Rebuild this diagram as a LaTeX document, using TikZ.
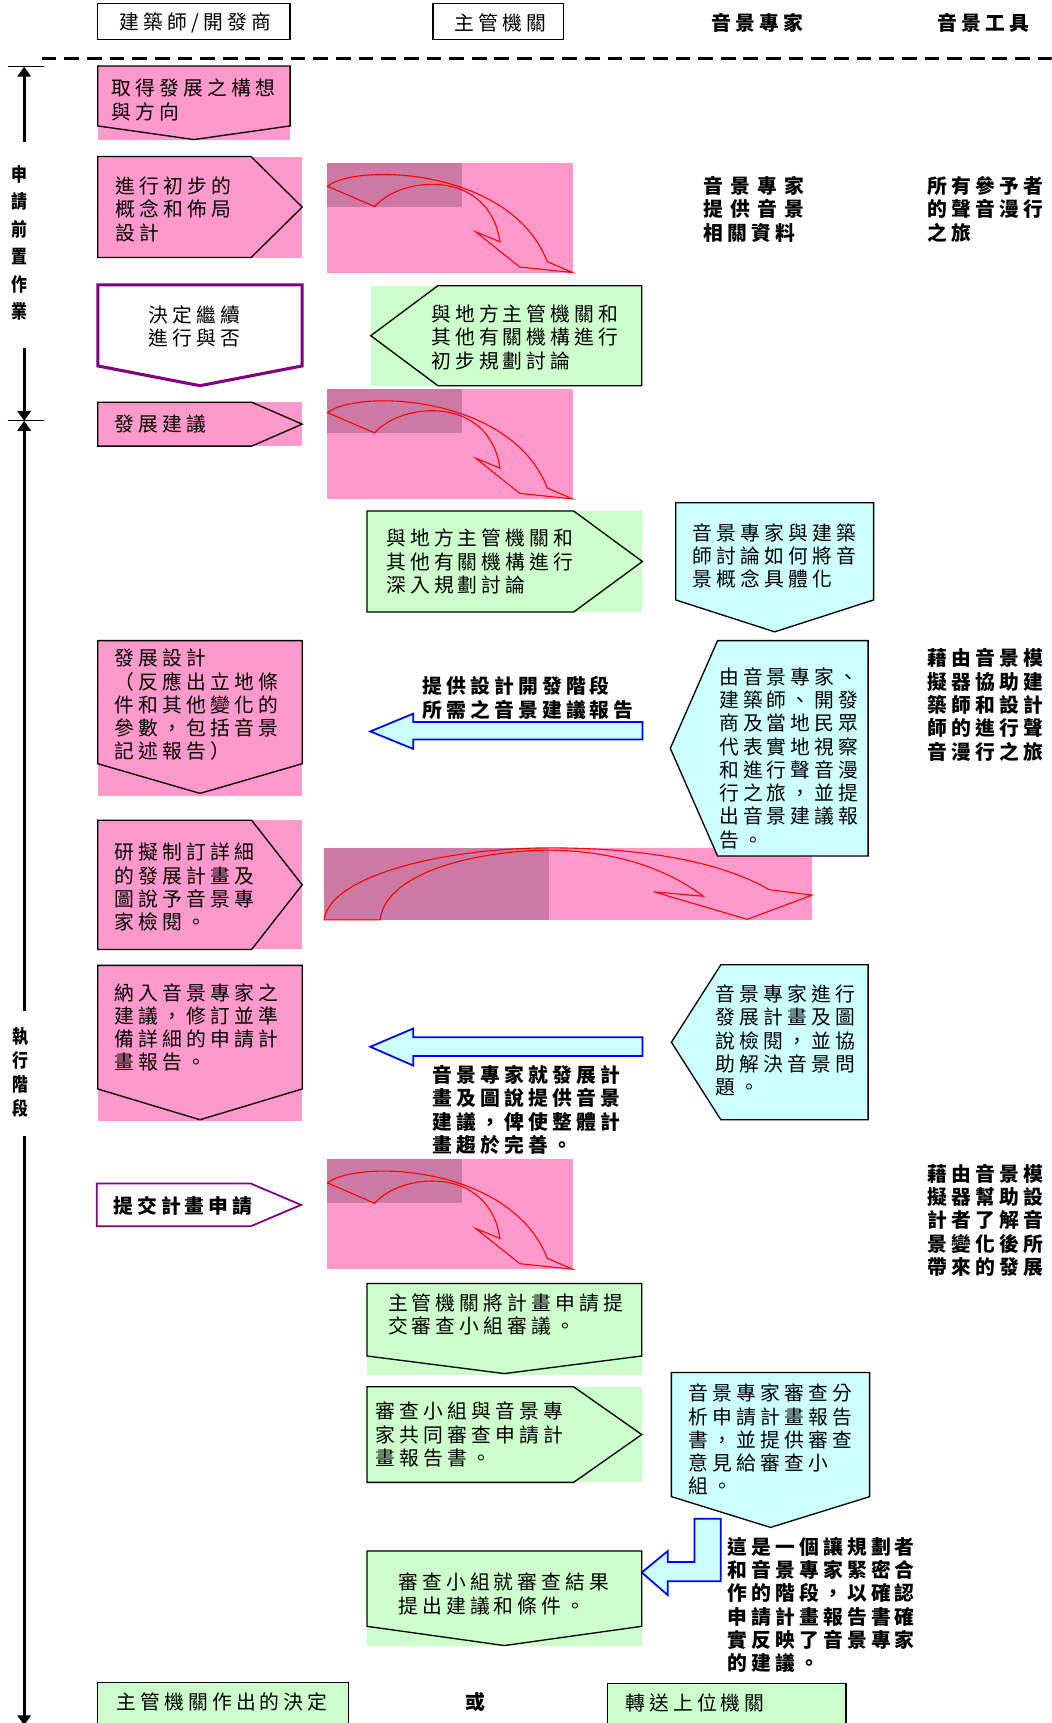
\documentclass[tikz,border=0pt]{standalone}
\usepackage{fontspec}
\setmainfont{Noto Sans CJK TC}[LetterSpace=21]
\usetikzlibrary{arrows.meta}

\definecolor{rosefill}{HTML}{FF99CC}
\definecolor{rosedark}{HTML}{CC79A3}
\definecolor{mintfill}{HTML}{CCFFCC}
\definecolor{icefill}{HTML}{CCFFFF}
\definecolor{plum}{HTML}{800080}

% pentagon pointing right: [style]{x1}{y1}{x shoulder}{x tip}{y2}
\newcommand{\pentR}[6][]{\draw[#1] (#2,#3) -- (#4,#3) -- (#5,{(#3+#6)/2}) -- (#4,#6) -- (#2,#6) -- cycle;}
% pentagon pointing down: [style]{x1}{y1}{x2}{y sides}{y tip}
\newcommand{\pentD}[6][]{\draw[#1] (#2,#3) -- (#4,#3) -- (#4,#5) -- ({(#2+#4)/2},#6) -- (#2,#5) -- cycle;}
% pentagon pointing left: [style]{x tip}{y1}{x shoulder}{x2}{y2}
\newcommand{\pentL}[6][]{\draw[#1] (#4,#3) -- (#5,#3) -- (#5,#6) -- (#4,#6) -- (#2,{(#3+#6)/2}) -- cycle;}
% curved down arrow on its pink tile, top left corner at (#1,#2)
\newcommand{\turnarrow}[2]{%
  \begin{scope}[shift={(#1,#2)}]
    \fill[rosefill] (0,0) rectangle (223,100);
    \fill[rosedark] (0,0) rectangle (122,40);
    \draw[red, line width=0.5pt] (0,21.5) .. controls (27,0) and (167,5) .. (200,90)
      -- (223,100) -- (175,95) -- (135,63) -- (157,72)
      .. controls (147,5) and (67,12) .. (43,40) -- cycle;
  \end{scope}}

\begin{document}
\begin{tikzpicture}[x=0.5pt, y=-0.5pt,
    rim/.style={draw=black, line width=0.6pt},
    txt/.style={anchor=west, align=left, inner sep=0pt, font=\fontsize{9}{10.6}\selectfont},
    txtb/.style={txt, font=\fontsize{9}{10.6}\selectfont\bfseries},
    blockarrow/.style={draw=blue, fill=icefill, line width=0.8pt},
    phase/.style={align=center, inner sep=0pt, xscale=0.85, transform shape},
    timeline/.style={line width=1.4pt, -{Triangle[length=4.5pt,width=6pt]}}
]
\useasboundingbox (0,0) rectangle (957,1568);
\clip (0,0) rectangle (957,1568);

% 欄位標題
\draw[rim] (89,3) rectangle (264,36);
\node[txt] (hArch) at (108.7,21) {建築師/開發商};
\draw[rim] (394,3) rectangle (513,36);
\node[txt] (hAuth) at (413,21) {主管機關};
\node[txtb, anchor=center] (hExpert) at (689,21) {音景專家};
\node[txtb, anchor=center] (hTool) at (895,21) {音景工具};
\draw[line width=1.2pt, dash pattern=on 6.7pt off 3.6pt] (38,53) -- (957,53);

% 時間軸
\coordinate (barA) at (22,60.7);
\coordinate (barB) at (22,383);
\coordinate (lineA) at (22,129);
\coordinate (lineB) at (22,317);
\coordinate (lineC) at (22,920);
\coordinate (lineD) at (22,1034);
\coordinate (lineEnd) at (22,1570);
\draw[line width=0.5pt] (7,60.7) -- (40,60.7);
\draw[line width=0.5pt] (7,383) -- (40,383);
\node[phase, font=\fontsize{8.5}{12.5}\selectfont\bfseries] (phasePre) at (18,221) {申\\請\\前\\置\\作\\業};
\node[phase, font=\fontsize{8.5}{10.9}\selectfont\bfseries] (phaseRun) at (19,976) {執\\行\\階\\段};
\draw[timeline] (lineA) -- (barA);
\draw[timeline] (lineB) -- (barB);
\draw[timeline] (lineC) -- (barB);
\draw[timeline] (lineD) -- (lineEnd);

% 曲線箭頭
\foreach \y in {148,354,1055} {\turnarrow{298}{\y}}
\begin{scope}[shift={(295,771.6)}]
  \fill[rosefill] (0,0) rectangle (444,65.5);
  \fill[rosedark] (0,0) rectangle (205,65.5);
  \draw[red, line width=0.5pt] (0,65.5) .. controls (5,25) and (110,0) .. (205,0)
    .. controls (300,0) and (365,15) .. (405,38) -- (444,43) -- (385,65) -- (300,40) -- (345,44)
    .. controls (310,18) and (265,3) .. (205,2) .. controls (130,3) and (55,25) .. (51,65.5) -- cycle;
\end{scope}

% 申請前置作業
\fill[rosefill] (89,60) rectangle (264,127);
\pentD[rim]{89}{60}{264}{114.6}{127}
\node[txt] (t1) at (101,91) {取得發展之構想\\與方向};

\fill[rosefill] (89,142.5) rectangle (275,234.4);
\pentR[rim]{89}{142.5}{228.5}{275}{234.4}
\node[txt] (t2) at (105,190.5) {進行初步的\\概念和佈局\\設計};
\node[txtb] (x1) at (640,190.5) {音\hspace{3.2pt}景\hspace{3.2pt}專\hspace{3.2pt}家\\提\hspace{3.2pt}供\hspace{3.2pt}音\hspace{3.2pt}景\\相關資料};
\node[txtb] (y1) at (844,190.5) {所有參予者\\的聲音漫行\\之旅};

\pentD[draw=plum, line width=1.4pt]{89}{259.3}{275}{333}{351}
\node[txt, anchor=center, align=center] (t3) at (177,297) {決定繼續\\進行與否};
\fill[mintfill] (337.4,260) rectangle (584,351);
\pentL[rim]{337.4}{260}{398.5}{584}{351}
\node[txt] (g1) at (392,307) {與地方主管機關和\\其他有關機構進行\\初步規劃討論};

% 執行階段
\fill[rosefill] (89,366) rectangle (275,406);
\pentR[rim]{89}{366}{229}{275}{406}
\node[txt] (t4) at (104,386) {發展建議};

\fill[mintfill] (334,465) rectangle (584.6,557);
\pentR[rim]{334}{465}{522}{584.6}{557}
\node[txt] (g2) at (351,511) {與地方主管機關和\\其他有關機構進行\\深入規劃討論};
\pentD[rim, fill=icefill]{615}{457.6}{795}{546}{575}
\node[txt] (c1) at (630,506) {音景專家與建築\\師討論如何將音\\景概念具體化};

\fill[rosefill] (89,583) rectangle (275,724);
\pentD[rim]{89}{583}{275}{695}{722}
\node[txt] (t5) at (104,641.5) {發展設計\\（反應出立地條\\件和其他變化的\\參數，包括音景\\記述報告）};
\draw[blockarrow] (584.6,657) -- (376,657) -- (376,649.5) -- (337,665.6) -- (376,681.5) -- (376,673) -- (584.6,673) -- cycle;
\node[txtb] (b1) at (384,635) {提供設計開發階段\\所需之音景建議報告};
\pentL[rim, fill=icefill]{610}{583}{653}{790}{779}
\node[txt] (c2) at (654,690) {由音景專家、\\建築師、開發\\商及當地民眾\\代表實地視察\\和進行聲音漫\\行之旅，並提\\出音景建議報\\告。};
\node[txtb] (y2) at (844,641.5) {藉由音景模\\擬器協助建\\築師和設計\\師的進行聲\\音漫行之旅};

\fill[rosefill] (89,746.5) rectangle (275,864);
\pentR[rim]{89}{746.5}{229}{275}{864}
\node[txt] (t6) at (104,807.5) {研擬制訂詳細\\的發展計畫及\\圖說予音景專\\家檢閱。};

\fill[rosefill] (89,878.5) rectangle (275,1019.7);
\pentD[rim]{89}{878.5}{275}{991}{1019}
\node[txt] (t7) at (104,935) {納入音景專家之\\建議，修訂並準\\備詳細的申請計\\畫報告。};
\draw[blockarrow] (584.6,944) -- (376,944) -- (376,936) -- (337,952.6) -- (376,969.7) -- (376,961) -- (584.6,961) -- cycle;
\node[txtb] (b2) at (393.6,1010) {音景專家就發展計\\畫及圖說提供音景\\建議，俾使整體計\\畫趨於完善。};
\pentL[rim, fill=icefill]{611}{878}{656}{790}{1019}
\node[txt] (c3) at (651,947) {音景專家進行\\發展計畫及圖\\說檢閱，並協\\助解決音景問\\題。};

\pentR[draw=plum, line width=0.8pt]{88}{1077}{228}{274}{1116}
\node[txtb] (t8) at (102.6,1097) {提交計畫申請};
\node[txtb] (y3) at (844,1110.5) {藉由音景模\\擬器幫助設\\計者了解音\\景變化後所\\帶來的發展};

\fill[mintfill] (334,1168) rectangle (584,1251);
\pentD[rim]{334}{1168}{584}{1234}{1250}
\node[txt] (g3) at (352.7,1196) {主管機關將計畫申請提\\交審查小組審議。};

\fill[mintfill] (334,1262) rectangle (584,1349);
\pentR[rim]{334}{1262}{522}{584}{1349}
\node[txt] (g4) at (341.5,1305.5) {審查小組與音景專\\家共同審查申請計\\畫報告書。};
\pentD[rim, fill=icefill]{611}{1249}{791.4}{1362}{1390}
\node[txt] (c4) at (626.6,1310) {音景專家審查分\\析申請計畫報告\\書，並提供審查\\意見給審查小\\組。};

\draw[blockarrow] (632,1382) -- (656,1382) -- (656,1439) -- (607.7,1439) -- (607.7,1451.6) -- (584,1431) -- (607.7,1411.5) -- (607.7,1421.5) -- (632,1421.5) -- cycle;
\node[txtb] (b3) at (661.6,1460.5) {這是一個讓規劃者\\和音景專家緊密合\\作的階段，以確認\\申請計畫報告書確\\實反映了音景專家\\的建議。};

\fill[mintfill] (334,1411.5) rectangle (584,1498);
\pentD[rim]{334}{1411.5}{584}{1480}{1497.5}
\node[txt] (g5) at (362,1450.5) {審查小組就審查結果\\提出建議和條件。};

% 決定
\draw[rim, fill=mintfill] (89,1531) rectangle (317,1600);
\node[txt, anchor=center] (d1) at (202,1548.5) {主管機關作出的決定};
\node[txtb, anchor=center] (dOr) at (433,1549) {或};
\draw[rim, fill=mintfill] (553,1532) rectangle (770,1600);
\node[txt] (d2) at (568.6,1550) {轉送上位機關};
\end{tikzpicture}
\end{document}
